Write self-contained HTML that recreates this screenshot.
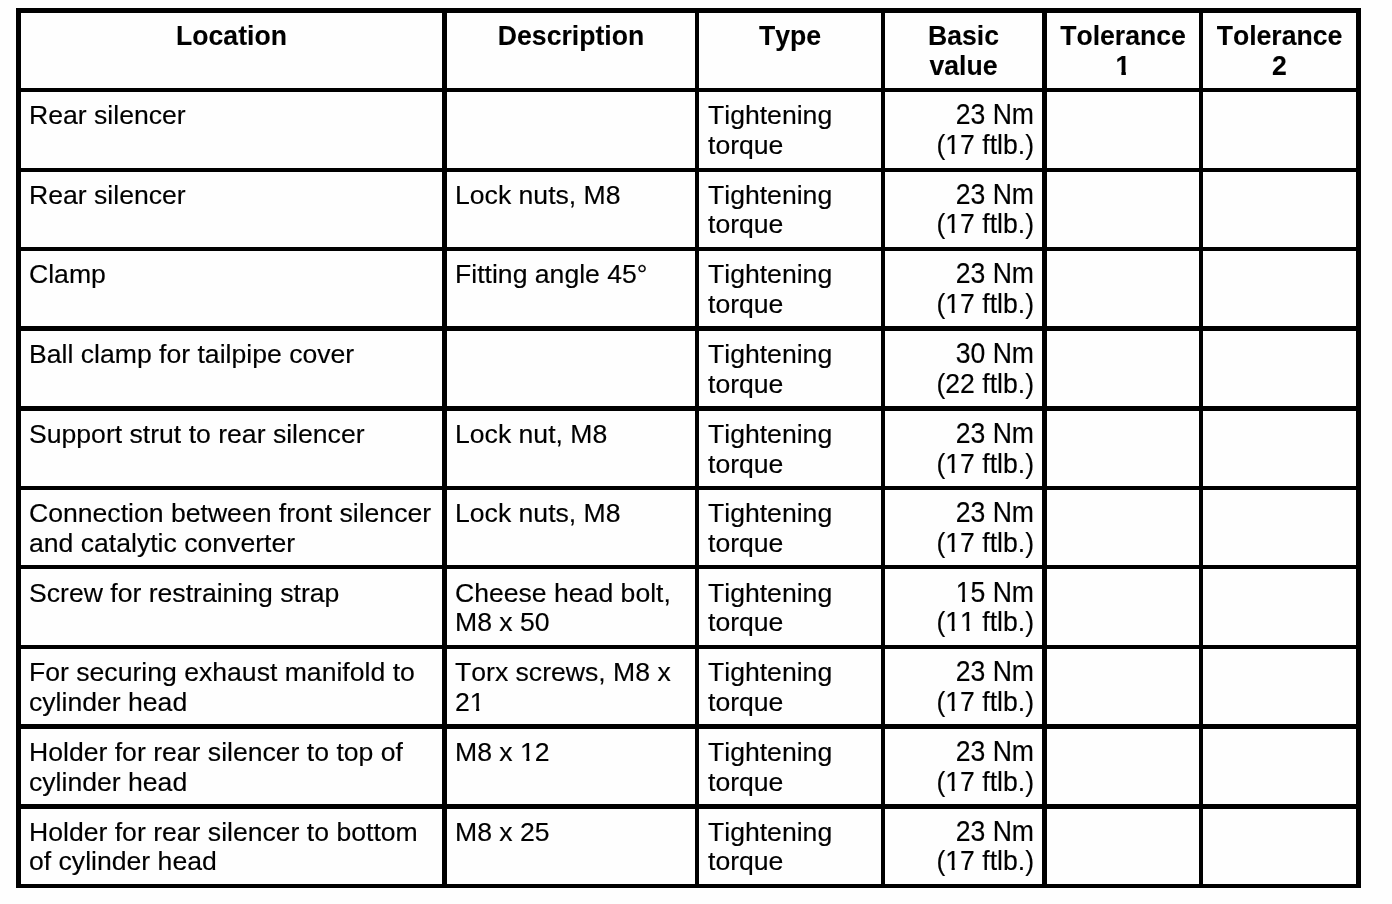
<!DOCTYPE html>
<html lang="en">
<head>
<meta charset="utf-8">
<title>Tightening torques</title>
<style>
html,body{margin:0;padding:0;background:#fefefe;}
body{width:1392px;height:904px;overflow:hidden;position:relative;font-family:"Liberation Sans",Arial,sans-serif;color:#000;font-kerning:none;}
table{position:absolute;left:16px;top:8px;border-collapse:separate;border-spacing:0;table-layout:fixed;width:1345px;}
th,td{box-sizing:border-box;margin:0;padding:8px 9px 0 8px;border:0 solid #000;vertical-align:top;text-align:left;font-size:26.6px;line-height:30px;font-weight:normal;white-space:nowrap;overflow:hidden;}
th{font-weight:bold;text-align:center;font-size:26.6px;padding:8px 0 0 0;}
td{-webkit-text-stroke:0.15px #000;}
th{-webkit-text-stroke:0.1px #000;}
.o{display:inline-block;clip-path:polygon(0 0,100% 0,100% calc(100% - 9.4px),63.5% calc(100% - 9.4px),63.5% 100%,42.6% 100%,42.6% calc(100% - 9.4px),0 calc(100% - 9.4px));}
th .o{clip-path:polygon(0 0,100% 0,100% calc(100% - 9.4px),69.5% calc(100% - 9.4px),69.5% 100%,39% 100%,39% calc(100% - 9.4px),0 calc(100% - 9.4px));}
td.v{text-align:right;padding-left:0;padding-right:8px;padding-top:7px;}
td.v .t{display:block;height:30px;line-height:29px;transform:scaleY(1.08);transform-origin:50% 0;}
td.v .t+.t{transform:scaleY(1.04);position:relative;top:1px;}
th .t{display:block;height:30px;line-height:29px;transform:scaleY(1.04);transform-origin:50% 0;}
td.c2{padding-left:9px;}
.c0{border-left-width:5px;width:426px;}
.c1{border-left-width:5px;width:253px;}
.c2{border-left-width:4px;width:186px;}
.c3{border-left-width:4px;width:161px;}
.c4{border-left-width:5px;width:157px;}
.c5{border-left-width:4px;width:162px;border-right-width:5px;}
.r0>*{border-top-width:5px;height:80px;}
.r1>*{border-top-width:4px;height:80px;}
.r2>*{border-top-width:4px;height:79px;}
.r2>td{padding-top:9px;line-height:29px;}
.r2>td.v{padding-top:7px;}
.r2>td.v .t{height:29px;}
.r3>*{border-top-width:4px;height:79px;}
.r4>*{border-top-width:5px;height:80px;}
.r5>*{border-top-width:5px;height:80px;}
.r6>*{border-top-width:4px;height:79px;}
.r7>*{border-top-width:4px;height:80px;}
.r7>td{padding-top:10px;line-height:29px;}
.r7>td.v{padding-top:8px;}
.r7>td.v .t{height:29px;}
.r8>*{border-top-width:4px;height:79px;}
.r9>*{border-top-width:5px;height:80px;}
.r10>*{border-top-width:5px;height:84px;border-bottom-width:4px;}
.r10>td{padding-top:9px;line-height:29px;}
.r10>td.v{padding-top:7px;}
.r10>td.v .t{height:29px;}
</style>
</head>
<body>
<table>
<colgroup><col style="width:426px"><col style="width:253px"><col style="width:186px"><col style="width:161px"><col style="width:157px"><col style="width:162px"></colgroup>
<thead>
<tr class="r0"><th class="c0"><span class="t">Location</span></th><th class="c1"><span class="t">Description</span></th><th class="c2"><span class="t">Type</span></th><th class="c3"><span class="t">Basic</span> <span class="t">value</span></th><th class="c4"><span class="t">Tolerance</span> <span class="t"><span class="o">1</span></span></th><th class="c5"><span class="t">Tolerance</span> <span class="t">2</span></th></tr>
</thead>
<tbody>
<tr class="r1"><td class="c0">Rear silencer</td><td class="c1"></td><td class="c2">Tightening <br>torque</td><td class="c3 v"><span class="t">23 Nm</span> <span class="t">(<span class="o">1</span>7 ftlb.)</span></td><td class="c4"></td><td class="c5"></td></tr>
<tr class="r2"><td class="c0">Rear silencer</td><td class="c1">Lock nuts, M8</td><td class="c2">Tightening <br>torque</td><td class="c3 v"><span class="t">23 Nm</span> <span class="t">(<span class="o">1</span>7 ftlb.)</span></td><td class="c4"></td><td class="c5"></td></tr>
<tr class="r3"><td class="c0">Clamp</td><td class="c1">Fitting angle 45°</td><td class="c2">Tightening <br>torque</td><td class="c3 v"><span class="t">23 Nm</span> <span class="t">(<span class="o">1</span>7 ftlb.)</span></td><td class="c4"></td><td class="c5"></td></tr>
<tr class="r4"><td class="c0">Ball clamp for tailpipe cover</td><td class="c1"></td><td class="c2">Tightening <br>torque</td><td class="c3 v"><span class="t">30 Nm</span> <span class="t">(22 ftlb.)</span></td><td class="c4"></td><td class="c5"></td></tr>
<tr class="r5"><td class="c0">Support strut to rear silencer</td><td class="c1">Lock nut, M8</td><td class="c2">Tightening <br>torque</td><td class="c3 v"><span class="t">23 Nm</span> <span class="t">(<span class="o">1</span>7 ftlb.)</span></td><td class="c4"></td><td class="c5"></td></tr>
<tr class="r6"><td class="c0">Connection between front silencer <br>and catalytic converter</td><td class="c1">Lock nuts, M8</td><td class="c2">Tightening <br>torque</td><td class="c3 v"><span class="t">23 Nm</span> <span class="t">(<span class="o">1</span>7 ftlb.)</span></td><td class="c4"></td><td class="c5"></td></tr>
<tr class="r7"><td class="c0">Screw for restraining strap</td><td class="c1">Cheese head bolt, <br>M8 x 50</td><td class="c2">Tightening <br>torque</td><td class="c3 v"><span class="t"><span class="o">1</span>5 Nm</span> <span class="t">(<span class="o">1</span><span class="o">1</span> ftlb.)</span></td><td class="c4"></td><td class="c5"></td></tr>
<tr class="r8"><td class="c0">For securing exhaust manifold to <br>cylinder head</td><td class="c1">Torx screws, M8 x <br>2<span class="o">1</span></td><td class="c2">Tightening <br>torque</td><td class="c3 v"><span class="t">23 Nm</span> <span class="t">(<span class="o">1</span>7 ftlb.)</span></td><td class="c4"></td><td class="c5"></td></tr>
<tr class="r9"><td class="c0">Holder for rear silencer to top of <br>cylinder head</td><td class="c1">M8 x <span class="o">1</span>2</td><td class="c2">Tightening <br>torque</td><td class="c3 v"><span class="t">23 Nm</span> <span class="t">(<span class="o">1</span>7 ftlb.)</span></td><td class="c4"></td><td class="c5"></td></tr>
<tr class="r10"><td class="c0">Holder for rear silencer to bottom <br>of cylinder head</td><td class="c1">M8 x 25</td><td class="c2">Tightening <br>torque</td><td class="c3 v"><span class="t">23 Nm</span> <span class="t">(<span class="o">1</span>7 ftlb.)</span></td><td class="c4"></td><td class="c5"></td></tr>
</tbody>
</table>
</body>
</html>
